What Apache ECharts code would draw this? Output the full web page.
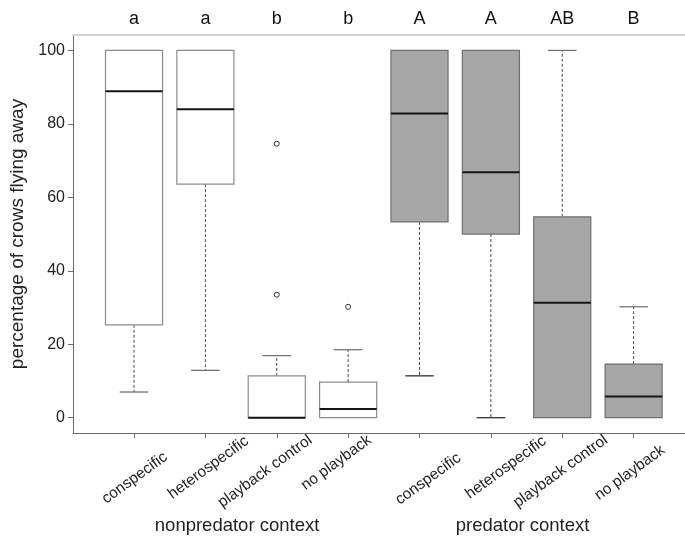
<!DOCTYPE html>
<html><head><meta charset="utf-8">
<script src="https://cdn.jsdelivr.net/npm/echarts@6/dist/echarts.min.js"></script>
<style>html,body{margin:0;padding:0;background:#fff}#c{width:685px;height:540px}</style>
</head><body><div id="c"></div>
<script>
// ---- data ----
const categories = ['conspecific','heterospecific','playback control','no playback','conspecific','heterospecific','playback control','no playback'];
const groups = ['nonpredator context','predator context'];
const groupOf = [0,0,0,0,1,1,1,1];
const letters = ['a','a','b','b','A','A','AB','B'];
const whiskerLow  = [7,    12.9, 0,    0,   11.4, 0,    0,    0];
const q1          = [25.3, 63.6, 0,    0,   53.3, 50,   0,    0];
const median      = [88.9, 84,   0,    2.4, 82.8, 66.8, 31.3, 5.8];
const q3          = [100,  100,  11.4, 9.7, 100,  100,  54.7, 14.6];
const whiskerHigh = [100,  100,  16.9, 18.5,100,  100,  100,  30.2];
const outlierCat  = [2, 2, 3];
const outlierVal  = [33.5, 74.6, 30.2];
const yTicks = [0, 20, 40, 60, 80, 100];
const yName = 'percentage of crows flying away';

// ---- layout (not data) ----
const labelNudge = [[27,16],[37,0],[29,-1],[17,-1],[35,17],[49,0],[39,-1],[25,9]];
const FONT = '"Liberation Sans", Arial, sans-serif';

const boxData = categories.map((c, i) => [i, whiskerLow[i], q1[i], median[i], q3[i], whiskerHigh[i]]);
const outData = outlierCat.map((c, k) => [c, outlierVal[k]]);

function renderItem(params, api) {
  const i = api.value(0);
  const lo = api.value(1), a = api.value(2), m = api.value(3), b = api.value(4), hi = api.value(5);
  const cx = api.coord([i, 0])[0];
  const bw = api.size([0.8, 0])[0];
  const Y = v => api.coord([i, v])[1];
  const filled = groupOf[i] === 1;
  const ch = [];
  const dash = {stroke: '#4a4a4a', lineWidth: 1, lineDash: [3, 2]};
  const cap = {stroke: '#6a6a6a', lineWidth: 1.2};
  if (hi > b) {
    ch.push({type: 'line', shape: {x1: cx, y1: Y(b), x2: cx, y2: Y(hi)}, style: dash});
    ch.push({type: 'line', shape: {x1: cx - bw/4, y1: Y(hi), x2: cx + bw/4, y2: Y(hi)}, style: cap});
  }
  if (lo < a) {
    ch.push({type: 'line', shape: {x1: cx, y1: Y(a), x2: cx, y2: Y(lo)}, style: dash});
    ch.push({type: 'line', shape: {x1: cx - bw/4, y1: Y(lo), x2: cx + bw/4, y2: Y(lo)}, style: {stroke: filled ? '#222' : '#6a6a6a', lineWidth: 1.2}});
  }
  ch.push({type: 'rect', shape: {x: cx - bw/2, y: Y(b), width: bw, height: Y(a) - Y(b)},
    style: {fill: filled ? '#a6a6a6' : '#ffffff', stroke: filled ? '#707070' : '#8c8c8c', lineWidth: 1.2}});
  ch.push({type: 'line', shape: {x1: cx - bw/2, y1: Y(m), x2: cx + bw/2, y2: Y(m)}, style: {stroke: '#151515', lineWidth: 2}});
  return {type: 'group', children: ch};
}

const chart = echarts.init(document.getElementById('c'), null, {renderer: 'canvas'});
const xMin = -0.855, xMax = 7.72;
chart.setOption({
  animation: false,
  backgroundColor: '#ffffff',
  grid: {left: 73, right: 0, top: 35, bottom: 107},
  xAxis: [{
    type: 'value', min: xMin, max: xMax,
    axisLine: {show: true, onZero: false, lineStyle: {color: '#6b6b6b', width: 1}},
    axisTick: {show: true, customValues: categories.map((c, i) => i), length: 5, lineStyle: {color: '#6b6b6b'}},
    axisLabel: {show: false}, splitLine: {show: false}
  }, {
    type: 'value', min: xMin, max: xMax, position: 'top',
    axisLine: {show: true, onZero: false, lineStyle: {color: '#d4d4d4', width: 2}},
    axisTick: {show: false}, axisLabel: {show: false}, splitLine: {show: false}
  }],
  yAxis: {
    type: 'value', min: -4.16, max: 104.2,
    axisLine: {show: true, onZero: false, lineStyle: {color: '#6b6b6b', width: 1}},
    axisTick: {show: true, customValues: yTicks, length: 5, lineStyle: {color: '#6b6b6b'}},
    axisLabel: {customValues: yTicks, fontSize: 16, color: '#222', margin: 8, fontFamily: FONT},
    splitLine: {show: false},
    name: yName, nameLocation: 'middle', nameGap: 41,
    nameTextStyle: {fontSize: 19, color: '#222', fontFamily: FONT}
  },
  series: [{
    type: 'custom', renderItem: renderItem, data: boxData,
    encode: {x: 0, y: [1, 2, 3, 4, 5]}, clip: false, z: 2
  }, {
    type: 'scatter', xAxisIndex: 0, yAxisIndex: 0, data: outData, symbol: 'circle', symbolSize: 5,
    itemStyle: {color: '#ffffff', borderColor: '#333333', borderWidth: 1, opacity: 1}, z: 5
  }]
});

const P = (x, y) => chart.convertToPixel({gridIndex: 0}, [x, y]);
const graphics = [];
categories.forEach((c, i) => {
  const p = P(i, 0);
  const axisY = P(i, -4.16)[1];
  graphics.push({type: 'text', x: p[0] + labelNudge[i][0], y: axisY + labelNudge[i][1],
    rotation: 36 * Math.PI / 180, originX: 0, originY: 0,
    style: {text: c, fill: '#222', font: '15.5px ' + FONT, align: 'right', verticalAlign: 'top'}});
  graphics.push({type: 'text', x: p[0], y: 19,
    style: {text: letters[i], fill: '#111', font: '18px ' + FONT, align: 'center', verticalAlign: 'middle'}});
});
groups.forEach((g, k) => {
  const p = P(1.5 + 4 * k, 0);
  graphics.push({type: 'text', x: p[0] - 4, y: 526,
    style: {text: g, fill: '#222', font: '18.5px ' + FONT, align: 'center', verticalAlign: 'middle'}});
});
chart.setOption({graphic: graphics});
</script></body></html>
